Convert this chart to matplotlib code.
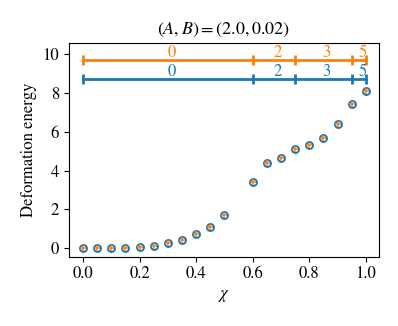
import numpy as np
import matplotlib
matplotlib.use('Agg')
import matplotlib.pyplot as plt

plt.rcParams['font.family'] = 'STIXGeneral'
plt.rcParams['mathtext.fontset'] = 'stix'
plt.rcParams['font.size'] = 12

# deformation energy vs chi
chi = [0.0, 0.05, 0.1, 0.15, 0.2, 0.25, 0.3, 0.35, 0.4, 0.45, 0.5,
       0.6, 0.65, 0.7, 0.75, 0.8, 0.85, 0.9, 0.95, 1.0]
energy_a = [0.0, 0.0, 0.0, 0.01, 0.05, 0.12, 0.25, 0.43, 0.71, 1.12, 1.69,
            3.42, 4.38, 4.65, 5.13, 5.31, 5.70, 6.41, 7.44, 8.11]
energy_b = energy_a

# phase segments (boundaries + labels) for both series
bounds_a = [0.0, 0.6, 0.75, 0.95, 1.0]
labels_a = ['0', '2', '3', '5']
level_a = 9.69
bounds_b = [0.0, 0.6, 0.75, 0.95, 1.0]
labels_b = ['0', '2', '3', '5']
level_b = 8.74

blue = '#1f77b4'
orange = '#ff7f0e'

fig = plt.figure(figsize=(3.98, 3.26), dpi=100)
ax = fig.add_axes([0.173, 0.213, 0.779, 0.656])

ax.plot(chi, energy_b, 'o', mfc='none', mec=blue, mew=1.4, ms=5)
ax.plot(chi, energy_a, '+', color=orange, mew=1.1, ms=4.5)

for bounds, labels, lev, col in [(bounds_a, labels_a, level_a, orange),
                                 (bounds_b, labels_b, level_b, blue)]:
    ax.plot(bounds, [lev] * len(bounds), '-', color=col, lw=2,
            marker='|', ms=7, mew=2)
    for i, lab in enumerate(labels):
        mid = 0.5 * (bounds[i] + bounds[i + 1])
        ax.text(mid + 0.012, lev + 0.15, lab, color=col, ha='center',
                va='baseline', fontsize=12)

ax.set_xlim(-0.05, 1.046)
ax.set_ylim(-0.43, 10.6)
ax.set_xticks([0.0, 0.2, 0.4, 0.6, 0.8, 1.0])
ax.set_yticks([0, 2, 4, 6, 8, 10])
ax.set_xlabel(r'$\chi$')
ax.set_ylabel('Deformation energy')
ax.set_title(r'$(A,B)=(2.0,0.02)$', fontsize=13)

fig.savefig('out.png', dpi=100)
